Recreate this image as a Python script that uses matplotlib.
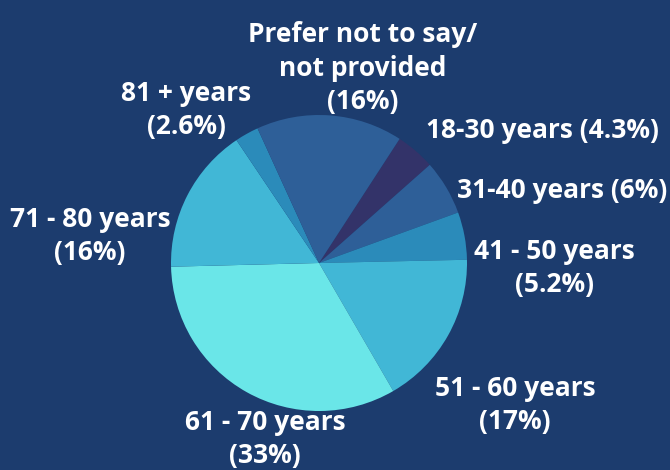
import matplotlib
matplotlib.use("Agg")
import matplotlib.pyplot as plt

categories = ["18-30 years", "31-40 years", "41 - 50 years", "51 - 60 years",
              "61 - 70 years", "71 - 80 years", "81 + years",
              "Prefer not to say/\nnot provided"]
values = [4.3, 6, 5.2, 17, 33, 16, 2.6, 16]
pct_labels = ["4.3%", "6%", "5.2%", "17%", "33%", "16%", "2.6%", "16%"]
colors = ["#333369", "#2e5f98", "#2b8bba", "#41b7d6",
          "#6ae6e8", "#41b7d6", "#2b8bba", "#2e5f98"]

bg = "#1c3c6e"
W, H = 670, 470
fig = plt.figure(figsize=(W / 100, H / 100), dpi=100, facecolor=bg)

cx, cy, r = 319, 263, 148
ax = fig.add_axes([(cx - r) / W, (H - cy - r) / H, 2 * r / W, 2 * r / H])
ax.set_facecolor(bg)
ax.pie(values, colors=colors, startangle=90 - 33, counterclock=False,
       radius=1, wedgeprops=dict(linewidth=0))
ax.set_xlim(-1, 1)
ax.set_ylim(-1, 1)
ax.set_aspect("equal")
ax.axis("off")

# label texts (positions in pixels, top-left origin)
label_pos = [
    (542, 130),
    (562, 190),
    (554, 268),
    (515, 405),
    (265, 439),
    (90, 236),
    (186, 110),
    (363, 68),
]
joiners = [" ", " ", "\n", "\n", "\n", "\n", "\n", "\n"]
for cat, pct, (x, y), j in zip(categories, pct_labels, label_pos, joiners):
    fig.text(x / W, 1 - y / H, f"{cat}{j}({pct})", ha="center", va="center",
             color="white", fontsize=19, fontweight="bold",
             family=["Open Sans", "DejaVu Sans"], linespacing=1.3)

fig.savefig("out.png", dpi=100, facecolor=bg)
